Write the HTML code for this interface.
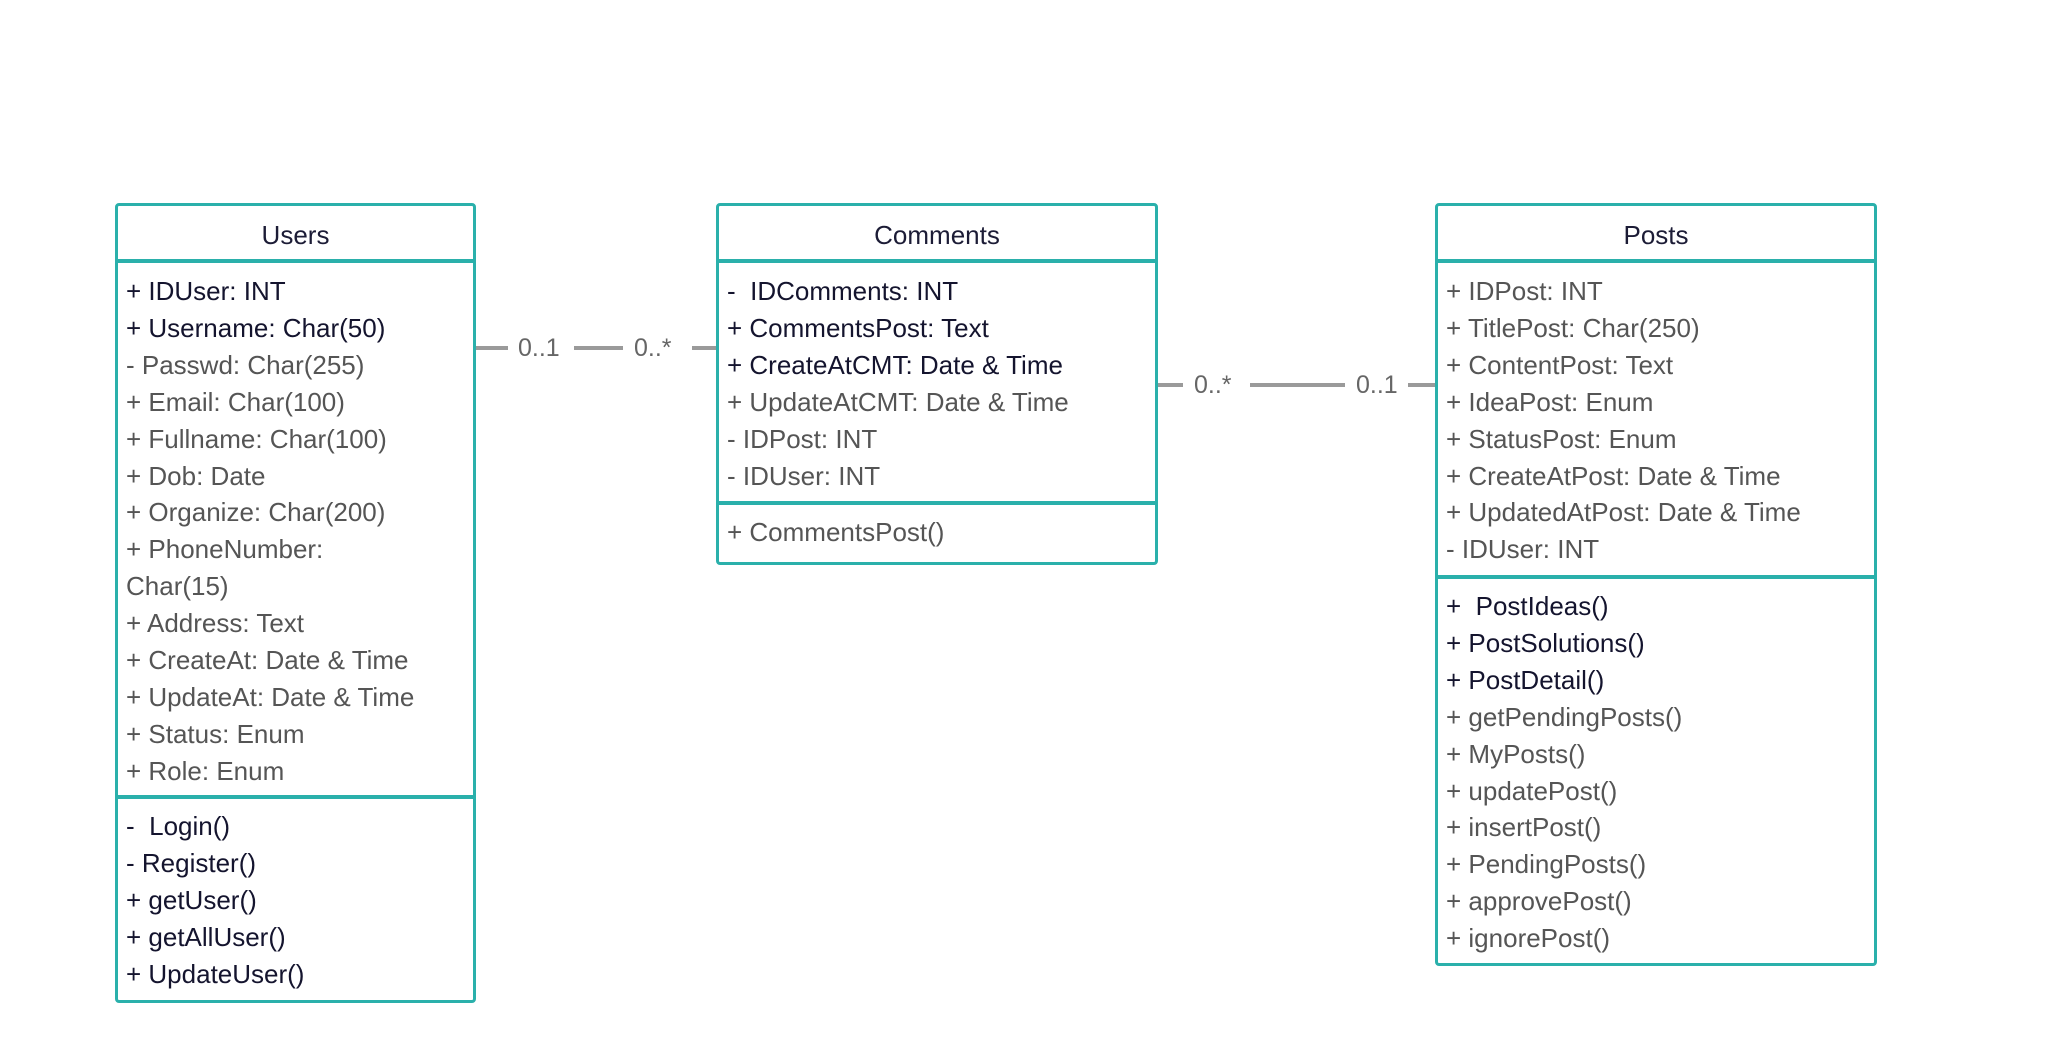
<!DOCTYPE html>
<html><head><meta charset="utf-8"><style>
body{margin:0;width:2053px;height:1041px;background:#fff;position:relative;overflow:hidden;font-family:"Liberation Sans","DejaVu Sans",sans-serif;}
.box{position:absolute;border:3.5px solid #2ab0ab;border-radius:4px;box-sizing:border-box;}
.hl{position:absolute;left:0;right:0;height:3.5px;background:#2ab0ab;}
.t{position:absolute;left:0;right:0;text-align:center;font-size:26px;color:#1c1c36;line-height:37px;}
.rows{position:absolute;left:8px;font-size:26px;line-height:36.9px;white-space:pre;color:#555;}
.d{color:#14142e;}
.ln{position:absolute;height:3.5px;background:#9a9a9a;}
.lb{position:absolute;font-size:25px;color:#666;line-height:30px;}
</style></head><body>

<!-- Users -->
<div class="box" style="left:115px;top:203px;width:361px;height:800px;">
<div class="t" style="top:11px;">Users</div>
<div class="hl" style="top:53px;"></div>
<div class="rows" style="top:67px;"><div class="d">+ IDUser: INT</div><div class="d">+ Username: Char(50)</div><div>- Passwd: Char(255)</div><div>+ Email: Char(100)</div><div>+ Fullname: Char(100)</div><div>+ Dob: Date</div><div>+ Organize: Char(200)</div><div>+ PhoneNumber:</div><div>Char(15)</div><div>+ Address: Text</div><div>+ CreateAt: Date &amp; Time</div><div>+ UpdateAt: Date &amp; Time</div><div>+ Status: Enum</div><div>+ Role: Enum</div></div>
<div class="hl" style="top:589px;"></div>
<div class="rows" style="top:602px;"><div class="d">-  Login()</div><div class="d">- Register()</div><div class="d">+ getUser()</div><div class="d">+ getAllUser()</div><div class="d">+ UpdateUser()</div></div>
</div>

<!-- Comments -->
<div class="box" style="left:716px;top:203px;width:442px;height:362px;">
<div class="t" style="top:11px;">Comments</div>
<div class="hl" style="top:53px;"></div>
<div class="rows" style="top:67px;"><div class="d">-  IDComments: INT</div><div class="d">+ CommentsPost: Text</div><div class="d">+ CreateAtCMT: Date &amp; Time</div><div>+ UpdateAtCMT: Date &amp; Time</div><div>- IDPost: INT</div><div>- IDUser: INT</div></div>
<div class="hl" style="top:295px;"></div>
<div class="rows" style="top:308px;"><div>+ CommentsPost()</div></div>
</div>

<!-- Posts -->
<div class="box" style="left:1435px;top:203px;width:442px;height:763px;">
<div class="t" style="top:11px;">Posts</div>
<div class="hl" style="top:53px;"></div>
<div class="rows" style="top:67px;"><div>+ IDPost: INT</div><div>+ TitlePost: Char(250)</div><div>+ ContentPost: Text</div><div>+ IdeaPost: Enum</div><div>+ StatusPost: Enum</div><div>+ CreateAtPost: Date &amp; Time</div><div>+ UpdatedAtPost: Date &amp; Time</div><div>- IDUser: INT</div></div>
<div class="hl" style="top:369px;"></div>
<div class="rows" style="top:382px;"><div class="d">+  PostIdeas()</div><div class="d">+ PostSolutions()</div><div class="d">+ PostDetail()</div><div>+ getPendingPosts()</div><div>+ MyPosts()</div><div>+ updatePost()</div><div>+ insertPost()</div><div>+ PendingPosts()</div><div>+ approvePost()</div><div>+ ignorePost()</div></div>
</div>

<!-- connector Users-Comments -->
<div class="ln" style="left:476px;top:346px;width:32px;"></div>
<div class="lb" style="left:518px;top:333px;">0..1</div>
<div class="ln" style="left:574px;top:346px;width:49px;"></div>
<div class="lb" style="left:634px;top:333px;">0..*</div>
<div class="ln" style="left:692px;top:346px;width:24px;"></div>

<!-- connector Comments-Posts -->
<div class="ln" style="left:1158px;top:383px;width:25px;"></div>
<div class="lb" style="left:1194px;top:370px;">0..*</div>
<div class="ln" style="left:1250px;top:383px;width:95px;"></div>
<div class="lb" style="left:1356px;top:370px;">0..1</div>
<div class="ln" style="left:1408px;top:383px;width:27px;"></div>
</body></html>
